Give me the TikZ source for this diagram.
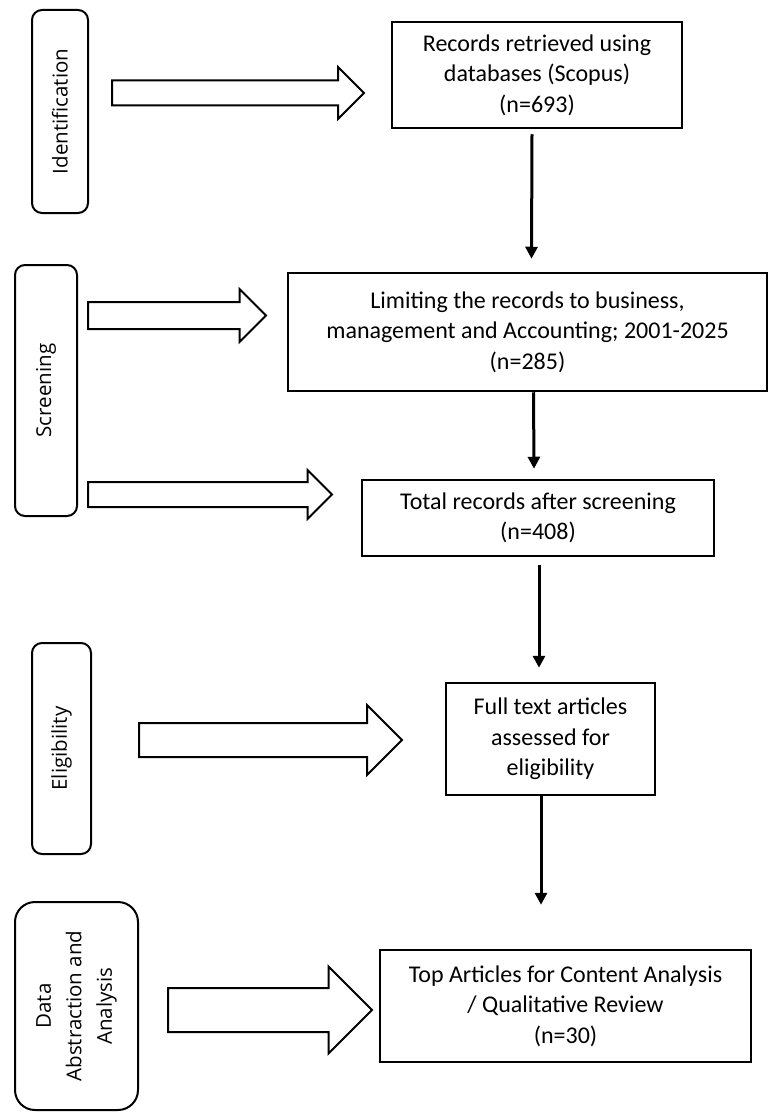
\documentclass[tikz,border=0pt]{standalone}
\usepackage{fontspec}
\setmainfont{Carlito}
\newfontfamily\phasefont{Open Sans}
\usetikzlibrary{shapes.arrows, arrows.meta, positioning}

\begin{document}
\begin{tikzpicture}[
    x=1pt, y=-1pt,
    box/.style={rectangle, draw, line width=2.5pt, align=center, inner sep=0pt, font=\fontsize{24}{30.5}\selectfont},
    phasebox/.style={rectangle, draw, line width=2pt, rounded corners=10pt, rotate=90, align=center, inner sep=0pt, font=\phasefont\fontsize{20.5}{30.5}\selectfont},
    bigarrow/.style={single arrow, draw, line width=2pt, inner xsep=0pt, single arrow tip angle=90, anchor=tail},
    flow/.style={-{Triangle[width=12pt,length=12pt]}, line width=3pt}
]
\useasboundingbox (0,0) rectangle (769,1113);

% phases on the left
\node[phasebox, minimum width=203, minimum height=56] (ident) at (60,111.5) {Identification};
\node[phasebox, minimum width=251, minimum height=62] (screen) at (46,390.5) {Screening};
\node[phasebox, minimum width=211, minimum height=59] (elig) at (61.5,748.5) {Eligibility};
\node[phasebox, minimum width=208, minimum height=123, rounded corners=20pt] (data) at (76.5,1006) {Data\\Abstraction and\\Analysis};

% records
\node[box, minimum width=290, minimum height=106] (rec) at (537,75) {Records retrieved using\\databases (Scopus)\\(n=693)};
\node[box, minimum width=479, minimum height=118] (lim) at (527.5,332) {Limiting the records to business,\\management and Accounting; 2001-2025\\(n=285)};
\node[box, minimum width=352, minimum height=76] (tot) at (538,518) {Total records after screening\\(n=408)};
\node[box, minimum width=209, minimum height=112] (full) at (550.5,739) {Full text articles\\assessed for\\eligibility};
\node[box, minimum width=371, minimum height=112] (top) at (565.5,1006) {Top Articles for Content Analysis\\/ Qualitative Review\\(n=30)};

% block arrows
\node[bigarrow, minimum height=252, inner ysep=11.5, single arrow head extend=13.5] (arrI) at (111,93) {};
\node[bigarrow, minimum height=178, inner ysep=12.5, single arrow head extend=13] (arrS1) at (87,315.5) {};
\node[bigarrow, minimum height=244, inner ysep=11.5, single arrow head extend=12] (arrS2) at (87,494.5) {};
\node[bigarrow, minimum height=263, inner ysep=16, single arrow head extend=18] (arrE) at (138,740) {};
\node[bigarrow, minimum height=204, inner ysep=21, single arrow head extend=21.5] (arrD) at (167,1010) {};

\draw[flow] ([shift={(-5,5)}]rec.south) -- ([shift={(4,-13)}]lim.north);
\draw[flow] ([shift={(6,0)}]lim.south) -- ([shift={(-4,-10)}]tot.north);
\draw[flow] ([shift={(1,8)}]tot.south) -- ([shift={(-11.5,-14)}]full.north);
\draw[flow] ([shift={(-9.5,0)}]full.south) -- ([shift={(-24.5,-44)}]top.north);
\end{tikzpicture}
\end{document}
